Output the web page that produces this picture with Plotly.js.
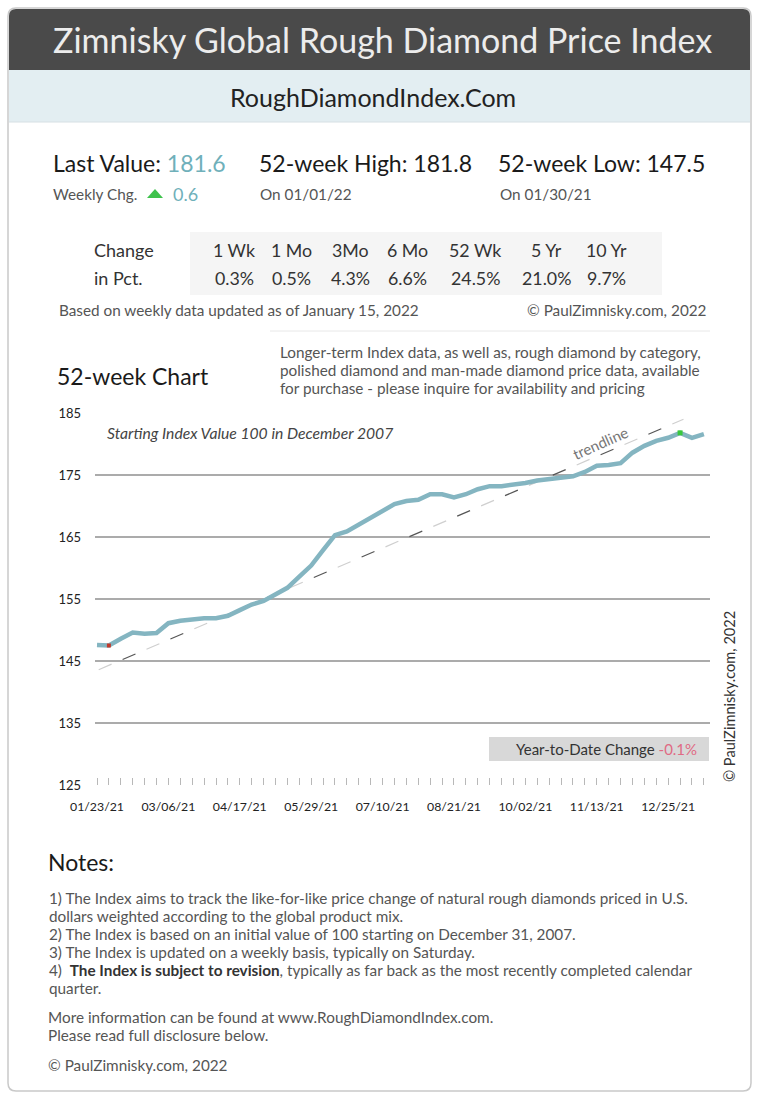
<!DOCTYPE html>
<html>
<head>
<meta charset="utf-8">
<script src="https://cdn.plot.ly/plotly-3.0.1.min.js"></script>
<style>
html,body{margin:0;padding:0;background:#fff;}
#chart{width:760px;height:1102px;}
</style>
</head>
<body>
<div id="chart"></div>
<script>
// ---------- DATA ----------
const weekDates = [
 '2021-01-23','2021-01-30','2021-02-06','2021-02-13','2021-02-20','2021-02-27',
 '2021-03-06','2021-03-13','2021-03-20','2021-03-27','2021-04-03','2021-04-10',
 '2021-04-17','2021-04-24','2021-05-01','2021-05-08','2021-05-15','2021-05-22',
 '2021-05-29','2021-06-05','2021-06-12','2021-06-19','2021-06-26','2021-07-03',
 '2021-07-10','2021-07-17','2021-07-24','2021-07-31','2021-08-07','2021-08-14',
 '2021-08-21','2021-08-28','2021-09-04','2021-09-11','2021-09-18','2021-09-25',
 '2021-10-02','2021-10-09','2021-10-16','2021-10-23','2021-10-30','2021-11-06',
 '2021-11-13','2021-11-20','2021-11-27','2021-12-04','2021-12-11','2021-12-18',
 '2021-12-25','2022-01-01','2022-01-08','2022-01-15'
];
const indexValues = [
 147.6,147.5,148.6,149.6,149.4,149.5,
 151.1,151.5,151.7,151.9,151.9,152.3,
 153.2,154.1,154.7,155.7,156.8,158.6,
 160.4,162.9,165.3,165.9,167.0,168.0,
 169.2,170.3,170.8,171.0,171.9,171.9,
 171.4,171.9,172.7,173.2,173.2,173.4,
 173.7,174.1,174.3,174.5,174.8,175.5,
 176.5,176.6,176.9,178.6,179.7,180.5,
 181.0,181.8,181.0,181.6
];
const lowDate = ['2021-01-30'];   const lowValue = [147.5];
const highDate = ['2022-01-01'];  const highValue = [181.8];
const trendDates = ['2021-01-24','2022-01-03'];
const trendValues = [143.6, 184.0];
const yTicks = [125,135,145,155,165,175,185];

const periodLabels = ['1 Wk','1 Mo','3Mo','6 Mo','52 Wk','5 Yr','10 Yr'];
const periodChanges = ['0.3%','0.5%','4.3%','6.6%','24.5%','21.0%','9.7%'];

const lastValue = '181.6', weeklyChg = '0.6';
const high52 = '181.8', high52Date = '01/01/22';
const low52 = '147.5', low52Date = '01/30/21';
const ytdChange = '-0.1%';

const notesLines = [
 '1) The Index aims to track the like-for-like price change of natural rough diamonds priced in U.S.',
 'dollars weighted according to the global product mix.',
 '2) The Index is based on an initial value of 100 starting on December 31, 2007.',
 '3) The Index is updated on a weekly basis, typically on Saturday.',
 '4)  <b style="color:#333">The Index is subject to revision</b>, typically as far back as the most recently completed calendar',
 'quarter.'
];
const infoLines = [
 'Longer-term Index data, as well as, rough diamond by category,',
 'polished diamond and man-made diamond price data, available',
 'for purchase - please inquire for availability and pricing'
];

// ---------- HELPERS (pixel -> paper) ----------
const W = 760, H = 1102;
const X = p => p / W;
const Y = p => 1 - p / H;
const FONT = 'Lato, "Open Sans", sans-serif';
const SMALL = 15.3;

function roundRectPath(x0, y0, x1, y1, r, topOnly) {
  const rb = topOnly ? 0 : r;
  return 'M' + X(x0 + r) + ',' + Y(y0) +
    ' L' + X(x1 - r) + ',' + Y(y0) +
    ' Q' + X(x1) + ',' + Y(y0) + ' ' + X(x1) + ',' + Y(y0 + r) +
    ' L' + X(x1) + ',' + Y(y1 - rb) +
    (rb ? ' Q' + X(x1) + ',' + Y(y1) + ' ' + X(x1 - rb) + ',' + Y(y1) : '') +
    ' L' + X(x0 + rb) + ',' + Y(y1) +
    (rb ? ' Q' + X(x0) + ',' + Y(y1) + ' ' + X(x0) + ',' + Y(y1 - rb) : '') +
    ' L' + X(x0) + ',' + Y(y0 + r) +
    ' Q' + X(x0) + ',' + Y(y0) + ' ' + X(x0 + r) + ',' + Y(y0) + ' Z';
}

function txt(text, px, py, size, color, opts, style) {
  const f = {family: FONT, size: size, color: color};
  if (style) f.style = style;
  return Object.assign({
    text: text, xref: 'paper', yref: 'paper', x: X(px), y: Y(py),
    xanchor: 'left', yanchor: 'middle', showarrow: false,
    font: f, borderpad: 0
  }, opts || {});
}

// ---------- TRACES ----------
const traces = [
  {x: trendDates, y: trendValues, mode: 'lines', hoverinfo: 'skip',
   line: {color: '#cfcfcf', width: 1.2, dash: '14px,38px'}},
  {x: trendDates, y: trendValues, mode: 'lines', hoverinfo: 'skip',
   line: {color: '#555555', width: 1.2, dash: '0px,26px,14px,12px'}},
  {x: weekDates, y: indexValues, mode: 'lines',
   line: {color: '#84b5c1', width: 4.5}},
  {x: lowDate, y: lowValue, mode: 'markers',
   marker: {symbol: 'square', size: 4, color: '#c0392b'}},
  {x: highDate, y: highValue, mode: 'markers',
   marker: {symbol: 'square', size: 5, color: '#39c83c'}}
];

// ---------- SHAPES ----------
const shapes = [
  {type: 'path', xref: 'paper', yref: 'paper', layer: 'below',
   path: roundRectPath(8, 8, 751, 1091, 8, false),
   fillcolor: '#ffffff', line: {color: '#c9c9c9', width: 1.5}},
  {type: 'path', xref: 'paper', yref: 'paper', layer: 'below',
   path: roundRectPath(9, 9, 750, 70, 7, true),
   fillcolor: '#4a4a4a', line: {width: 0}},
  {type: 'rect', xref: 'paper', yref: 'paper', layer: 'below',
   x0: X(9), x1: X(750), y0: Y(122), y1: Y(70),
   fillcolor: '#e3eef2', line: {width: 0}},
  {type: 'line', xref: 'paper', yref: 'paper', layer: 'below',
   x0: X(9), x1: X(750), y0: Y(122), y1: Y(122),
   line: {color: '#d6e0e4', width: 1}},
  {type: 'rect', xref: 'paper', yref: 'paper', layer: 'below',
   x0: X(190), x1: X(662), y0: Y(295), y1: Y(232),
   fillcolor: '#f5f5f5', line: {width: 0}},
  {type: 'line', xref: 'paper', yref: 'paper', layer: 'below',
   x0: X(270), x1: X(710), y0: Y(331), y1: Y(331),
   line: {color: '#e8e8e8', width: 1}},
  {type: 'path', xref: 'paper', yref: 'paper',
   path: 'M' + X(147) + ',' + Y(198) + ' L' + X(163) + ',' + Y(198) + ' L' + X(155) + ',' + Y(189) + ' Z',
   fillcolor: '#3fc24c', line: {width: 0}},
  {type: 'rect', xref: 'paper', yref: 'paper',
   x0: X(489), x1: X(709), y0: Y(761), y1: Y(737),
   fillcolor: '#d8d8d8', line: {width: 0}}
];

// ---------- ANNOTATIONS ----------
const teal = '#6fb0ba';
const ann = [
  txt('Zimnisky Global Rough Diamond Price Index', 382, 40, 34, '#ececec', {xanchor: 'center'}),
  txt('RoughDiamondIndex.Com', 373, 97, 25, '#222222', {xanchor: 'center'}),
  txt('Last Value: <span style="color:' + teal + '">' + lastValue + '</span>', 52, 163, 23, '#1a1a1a'),
  txt('52-week High: ' + high52, 258, 163, 23, '#1a1a1a'),
  txt('52-week Low: ' + low52, 497, 163, 23, '#1a1a1a'),
  txt('Weekly Chg.', 52, 194, SMALL, '#555555'),
  txt(weeklyChg, 172, 194, 18, teal),
  txt('On ' + high52Date, 259, 194, SMALL, '#555555'),
  txt('On ' + low52Date, 499, 194, SMALL, '#555555'),
  txt('Change', 93, 250, 18, '#333333'),
  txt('in Pct.', 93, 278, 18, '#333333'),
  txt('Based on weekly data updated as of January 15, 2022', 58, 310, SMALL, '#555555'),
  txt('© PaulZimnisky.com, 2022', 708, 310, SMALL, '#555555', {xanchor: 'right'}),
  txt('52-week Chart', 56, 376, 23, '#1a1a1a'),
  txt('Starting Index Value 100 in December 2007', 106, 433, 15.7, '#444444', {}, 'italic'),
  txt('trendline', 600, 443, 15, '#777777', {xanchor: 'center', textangle: -24}),
  txt('Year-to-Date Change <span style="color:#e06a84">' + ytdChange + '</span>', 698, 749, 15, '#333333', {xanchor: 'right'}),
  txt('© PaulZimnisky.com, 2022', 729, 697, 14.6, '#333333', {xanchor: 'center', textangle: -90}),
  txt('Notes:', 47, 862, 23, '#1a1a1a'),
  txt('More information can be found at www.RoughDiamondIndex.com.', 47, 1017, SMALL, '#555555'),
  txt('Please read full disclosure below.', 47, 1035, SMALL, '#555555'),
  txt('© PaulZimnisky.com, 2022', 47, 1065, SMALL, '#555555')
];

const tableCenters = [234, 291, 350, 407, 475, 546, 606];
periodLabels.forEach((lab, i) => {
  ann.push(txt(lab, tableCenters[i], 250, 17.8, '#333333', {xanchor: 'center'}));
  ann.push(txt(periodChanges[i], tableCenters[i], 278, 17.8, '#333333', {xanchor: 'center'}));
});
infoLines.forEach((l, i) => ann.push(txt(l, 279, 352 + i * 18, SMALL, '#555555')));
notesLines.forEach((l, i) => ann.push(txt(l, 48, 898 + i * 18, SMALL, '#555555')));

// ---------- LAYOUT ----------
const layout = {
  width: W, height: H,
  margin: {l: 0, r: 0, t: 0, b: 0},
  paper_bgcolor: '#ffffff',
  plot_bgcolor: '#f7f7f7',
  showlegend: false,
  font: {family: FONT},
  xaxis: {
    domain: [X(95), X(710)],
    type: 'date',
    range: ['2021-01-21 19:46', '2022-01-18 14:24'],
    tickmode: 'linear', tick0: '2021-01-23', dtick: 42 * 86400000,
    tickformat: '%m/%d/%y',
    ticks: 'inside', ticklen: 7, tickcolor: '#b8b8b8', tickwidth: 1,
    minor: {tick0: '2021-01-23', dtick: 7 * 86400000, ticks: 'inside', ticklen: 7,
            tickcolor: '#b8b8b8', tickwidth: 1, showgrid: false},
    showgrid: false, zeroline: false, showline: false,
    tickfont: {family: FONT, size: 12.3, color: '#222222'},
    ticklabelstandoff: 13, fixedrange: true
  },
  yaxis: {
    domain: [Y(785), Y(413)],
    range: [125, 185],
    tickmode: 'array', tickvals: yTicks,
    showgrid: true, gridcolor: '#ababab', gridwidth: 1.5,
    zeroline: false, showline: false, ticks: '',
    tickfont: {family: FONT, size: 13, color: '#222222'},
    ticklabelstandoff: 13, fixedrange: true
  },
  shapes: shapes,
  annotations: ann
};

Plotly.newPlot('chart', traces, layout, {staticPlot: true, displayModeBar: false});
</script>
</body>
</html>
